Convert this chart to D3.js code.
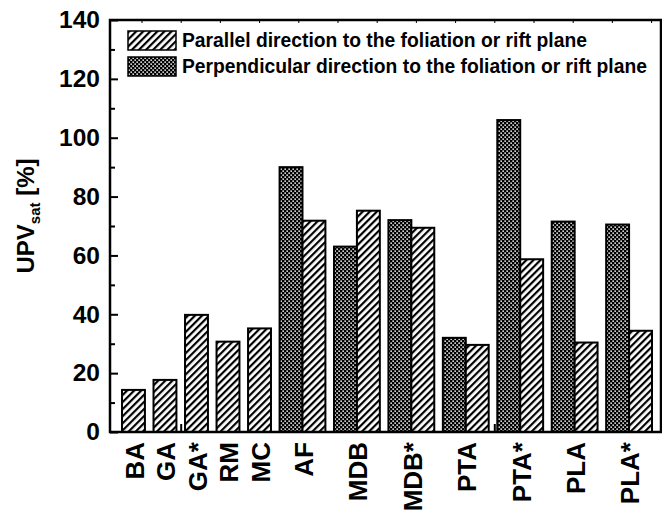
<!DOCTYPE html>
<html>
<head>
<meta charset="utf-8">
<script src="https://cdn.jsdelivr.net/npm/d3@7"></script>
<style>
  body { margin: 0; background: #fff; }
  svg { display: block; }
  text { font-family: "Liberation Sans", Arial, sans-serif; fill: #000; }
</style>
</head>
<body>
<div id="chart"></div>
<script>
// data
const categories = ["BA", "GA", "GA*", "RM", "MC", "AF", "MDB", "MDB*", "PTA", "PTA*", "PLA", "PLA*"];
const perpendicular = [null, null, null, null, null, 90, 63, 72, 32, 106, 71.5, 70.5];
const parallel = [14.3, 17.7, 39.8, 30.7, 35.2, 71.8, 75.2, 69.4, 29.6, 58.7, 30.4, 34.4];
const yTicks = [0, 20, 40, 60, 80, 100, 120, 140];
const legendLabels = ["Parallel direction to the foliation or rift plane",
                      "Perpendicular direction to the foliation or rift plane"];

const W = 662, H = 516;
const plot = {left: 110, right: 661, top: 20, bottom: 432};

const svg = d3.select("#chart").append("svg")
  .attr("width", W)
  .attr("height", H);

const defs = svg.append("defs");
// diagonal hatch
const hatch = defs.append("pattern")
  .attr("id", "hatch")
  .attr("patternUnits", "userSpaceOnUse")
  .attr("width", 5).attr("height", 5)
  .attr("patternTransform", "rotate(45)");
hatch.append("rect").attr("width", 5).attr("height", 5).attr("fill", "#fff");
hatch.append("rect").attr("width", 2.2).attr("height", 5).attr("fill", "#000");

// dark dotted
const dots = defs.append("pattern")
  .attr("id", "dots")
  .attr("patternUnits", "userSpaceOnUse")
  .attr("width", 4).attr("height", 4);
dots.append("rect").attr("width", 4).attr("height", 4).attr("fill", "#000");
dots.append("rect").attr("x", 0.4).attr("y", 0.4).attr("width", 1.5).attr("height", 1.5).attr("fill", "#fff");
dots.append("rect").attr("x", 2.4).attr("y", 2.4).attr("width", 1.5).attr("height", 1.5).attr("fill", "#fff");

// bar layout in "bar units": each bar is one unit, groups separated by a gap
const gap = 0.375;
let pos = 0;
const groups = categories.map(function(c, i) {
  const bars = [];
  if (perpendicular[i] != null) bars.push({key: "perp", v: perpendicular[i]});
  bars.push({key: "par", v: parallel[i]});
  const g = {name: c, start: pos, bars: bars};
  pos += bars.length + gap;
  return g;
});
const totalUnits = pos - gap;

const x = d3.scaleLinear().domain([0, totalUnits]).range([122, 652]);
const y = d3.scaleLinear().domain([0, 140]).range([plot.bottom, plot.top]);
// numeric x axis the original software kept (ticks only)
const xt = d3.scaleLinear().domain([-0.816, 13.24]).range([plot.left, plot.right]);

const g = svg.append("g");

// bottom inner ticks (behind bars)
g.append("g").selectAll("line")
  .data(d3.range(0, 14))
  .join("line")
  .attr("x1", d => xt(d)).attr("x2", d => xt(d))
  .attr("y1", plot.bottom).attr("y2", plot.bottom - 8)
  .attr("stroke", "#000").attr("stroke-width", 2);

// bars
const bars = [];
groups.forEach(function(gr) {
  gr.bars.forEach(function(b, j) {
    bars.push({name: gr.name, key: b.key, v: b.v, x0: gr.start + j});
  });
});
g.append("g").selectAll("rect")
  .data(bars)
  .join("rect")
  .attr("x", d => x(d.x0))
  .attr("width", d => x(d.x0 + 1) - x(d.x0))
  .attr("y", d => y(d.v))
  .attr("height", d => y(0) - y(d.v))
  .attr("fill", d => d.key == "perp" ? "url(#dots)" : "url(#hatch)")
  .attr("stroke", "#000")
  .attr("stroke-width", 2);

// frame
g.append("rect")
  .attr("x", plot.left).attr("y", plot.top)
  .attr("width", plot.right - plot.left)
  .attr("height", plot.bottom - plot.top)
  .attr("fill", "none").attr("stroke", "#000").attr("stroke-width", 2.5);

// top ticks
g.append("g").selectAll("line")
  .data(d3.range(0, 14))
  .join("line")
  .attr("x1", d => xt(d)).attr("x2", d => xt(d))
  .attr("y1", plot.top).attr("y2", plot.top + 3)
  .attr("stroke", "#000").attr("stroke-width", 1);

// y axis
const yAxis = d3.axisLeft(y).tickValues(yTicks).tickSize(-8).tickPadding(10);
const ya = g.append("g")
  .attr("transform", "translate(" + plot.left + ",0)")
  .call(yAxis);
ya.select(".domain").remove();
ya.selectAll(".tick line").attr("stroke-width", 2);
ya.selectAll(".tick text")
  .style("font-size", "24.5px")
  .style("font-weight", "bold")
  .style("font-family", "Liberation Sans, Arial, sans-serif");

const yMinor = d3.axisLeft(y).tickValues(d3.range(10, 140, 20)).tickSize(-5).tickFormat("");
const ym = g.append("g")
  .attr("transform", "translate(" + plot.left + ",0)")
  .call(yMinor);
ym.select(".domain").remove();
ym.selectAll(".tick line").attr("stroke-width", 2);

// y label
const yl = svg.append("text")
  .attr("transform", "translate(34,216) rotate(-90)")
  .attr("text-anchor", "middle")
  .style("font-size", "24px")
  .style("font-weight", "bold");
yl.append("tspan").text("UPV");
yl.append("tspan").attr("font-size", "15px").attr("dy", 6).text("sat");
yl.append("tspan").attr("dy", -6).text(" [%]");

// x labels
svg.append("g").selectAll("text")
  .data(groups)
  .join("text")
  .attr("transform", d => "translate(" + (x(d.start + d.bars.length / 2) + 1) + "," + (plot.bottom + 10) + ") rotate(-90)")
  .attr("text-anchor", "end")
  .attr("dy", "0.36em")
  .style("font-size", "26px")
  .style("font-weight", "bold")
  .text(d => d.name);

// legend
const legend = svg.append("g");
const legendFill = ["url(#hatch)", "url(#dots)"];
legendLabels.forEach(function(l, i) {
  const row = legend.append("g").attr("transform", "translate(128," + (31 + i * 26) + ")");
  row.append("rect")
    .attr("width", 48).attr("height", 19)
    .attr("fill", legendFill[i])
    .attr("stroke", "#000").attr("stroke-width", 1.5);
  row.append("text")
    .attr("x", 54).attr("y", 16)
    .style("font-size", "19.3px")
    .style("font-weight", "bold")
    .text(l);
});
</script>
</body>
</html>
